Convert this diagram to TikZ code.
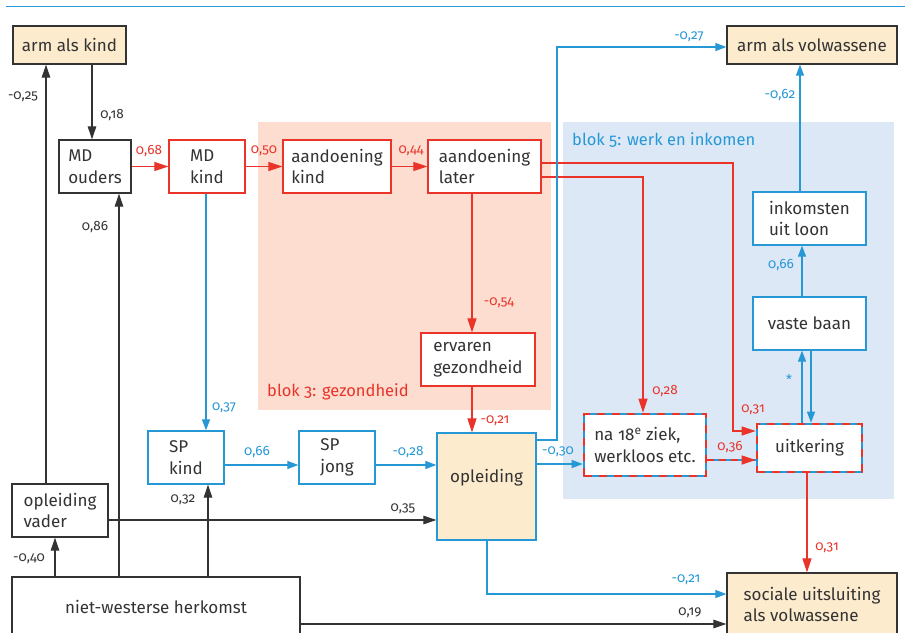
\documentclass[tikz,border=0pt]{standalone}
\usepackage{fontspec}
\setmainfont{Fira Sans}[Numbers=OldStyle]
\usetikzlibrary{arrows.meta,calc}
\definecolor{cred}{RGB}{234,52,42}
\definecolor{cblue}{RGB}{38,152,214}
\definecolor{cdark}{RGB}{51,51,51}
\definecolor{cbeige}{RGB}{253,235,206}
\definecolor{cpink}{RGB}{252,221,208}
\definecolor{clblue}{RGB}{220,232,245}
\begin{document}
\begin{tikzpicture}[x=1pt,y=-1pt,
  box/.style={draw, line width=1.3pt, fill=white, inner sep=0pt, align=left, text=cdark,
    font=\fontsize{17}{21.5}\selectfont},
  bbox/.style={box, draw=cdark},
  rbox/.style={box, draw=cred},
  ubox/.style={box, draw=cblue},
  dualbox/.style={box, draw=cblue, line width=2.6pt,
    postaction={draw=cred, fill=none, line width=2.6pt, dash pattern=on 8pt off 7pt}},
  beige/.style={fill=cbeige},
  lab/.style={font=\fontsize{13.5}{16}\selectfont, inner sep=0pt},
  blk/.style={line width=1.2pt, draw=cdark, -{Triangle[length=13pt,width=8.5pt]}},
  rd/.style={line width=1.2pt, draw=cred, -{Triangle[length=14pt,width=9pt]}},
  bl/.style={line width=1.2pt, draw=cblue, -{Triangle[length=11pt,width=8pt]}},
  blocklab/.style={font=\fontsize{16.5}{20}\selectfont, inner sep=0pt, anchor=base west}
]
\useasboundingbox (0,0) rectangle (905,632);
\fill[white] (0,0) rectangle (905,632);
\draw[cblue, line width=1.3pt] (6,6.5) -- (905,6.5);

% block backgrounds
\fill[cpink] (258,122) rectangle (551,410);
\fill[clblue] (563,122) rectangle (894,499);
\node[blocklab, text=cred] (b3) at (267,396) {blok 3: gezondheid};
\node[blocklab, text=cblue] (b5) at (572,145) {blok 5: werk en inkomen};

% nodes
\node[bbox, beige, minimum width=113pt, minimum height=38pt] (armkind) at (69.5,45) {arm als kind};
\node[bbox, minimum width=72pt, minimum height=53pt] (mdouders) at (95,166.5) {MD\\ouders};
\node[rbox, minimum width=76pt, minimum height=53pt] (mdkind) at (207,166.5) {MD\\kind};
\node[rbox, minimum width=108pt, minimum height=53pt] (akind) at (337,166.5) {aandoening\\kind};
\node[rbox, minimum width=113pt, minimum height=53pt] (alater) at (484.5,166.5) {aandoening\\later};
\node[rbox, minimum width=114pt, minimum height=53pt] (ervaren) at (478,359.5) {ervaren\\gezondheid};
\node[bbox, beige, minimum width=170pt, minimum height=38pt] (armvol) at (812,45) {arm als volwassene};
\node[ubox, minimum width=113pt, minimum height=53pt] (inkomsten) at (809.5,218.5) {inkomsten\\uit loon};
\node[ubox, minimum width=113pt, minimum height=53pt] (vaste) at (809.5,323.5) {vaste baan};
\node[dualbox, minimum width=105pt, minimum height=48pt] (uitkering) at (809.5,448) {uitkering};
\node[dualbox, minimum width=122pt, minimum height=62pt] (na18) at (645,445) {na 18\textsuperscript{e} ziek,\\werkloos etc.};
\node[ubox, beige, minimum width=99pt, minimum height=107pt, text depth=22pt] (opleiding) at (486.5,486.5) {opleiding};
\node[ubox, minimum width=76pt, minimum height=53pt] (spkind) at (186,457.5) {SP\\kind};
\node[ubox, minimum width=76pt, minimum height=53pt] (spjong) at (337,457.5) {SP\\jong};
\node[bbox, minimum width=96pt, minimum height=53pt] (opvader) at (60,510.5) {opleiding\\vader};
\node[bbox, minimum width=288pt, minimum height=59pt] (niet) at (156,606.5) {niet-westerse herkomst};
\node[bbox, beige, minimum width=170pt, minimum height=63pt] (sociale) at (812,604.5) {sociale uitsluiting\\als volwassene};

% black connectors
\draw[blk] (armkind.south -| 92,0) -- (mdouders.north -| 92,0);
\draw[blk] (opvader.north -| 46,0) -- (armkind.south -| 46,0);
\draw[blk] (niet.north -| 55,0) -- (opvader.south -| 55,0);
\draw[blk] (niet.north -| 119,0) -- (mdouders.south -| 119,0);
\draw[blk] (niet.north -| 208,0) -- (spkind.south -| 208,0);
\draw[blk] (niet.east |- 0,624) -- (sociale.west |- 0,624);
\draw[blk] (opvader.east |- 0,520) -- (opleiding.west |- 0,520);

% red connectors
\draw[rd] (mdouders.east) -- (mdkind.west);
\draw[rd] (mdkind.east) -- (akind.west);
\draw[rd] (akind.east) -- (alater.west);
\draw[rd] (alater.south -| 472,0) -- (ervaren.north -| 472,0);
\draw[rd] (ervaren.south -| 472,0) -- (opleiding.north -| 472,0);
\draw[rd] (alater.east |- 0,177) -| (na18.north -| 643,0);
\coordinate (c31) at (733,431);
\draw[rd] (alater.east |- 0,163) -| (c31) -- (uitkering.west |- c31);
\draw[rd] (uitkering.south -| 807,0) -- (sociale.north -| 807,0);

% blue connectors
\draw[bl] (mdkind.south -| 206,0) -- (spkind.north -| 206,0);
\draw[bl] (spkind.east |- 0,465) -- (spjong.west |- 0,465);
\draw[bl] (spjong.east |- 0,465) -- (opleiding.west |- 0,465);
\coordinate (c27) at (557,47);
\draw[bl] (opleiding.east |- 0,440) -| (c27) -- (armvol.west |- c27);
\draw[bl] (opleiding.east |- 0,464) -- (na18.west |- 0,464);
\draw[bl] (uitkering.north -| 802,0) -- (vaste.south -| 802,0);
\draw[bl] (vaste.south -| 811,0) -- (uitkering.north -| 811,0);
\draw[bl] (vaste.north -| 802,0) -- (inkomsten.south -| 802,0);
\draw[bl] (inkomsten.north -| 800,0) -- (armvol.south -| 800,0);
\draw[bl] (opleiding.south -| 487,0) |- (sociale.west |- 0,594);

% dual connector
\draw[cblue, line width=1.3pt] (na18.east |- 0,460) -- (uitkering.west |- 0,460);
\draw[rd, line width=1.3pt, dash pattern=on 7pt off 5pt] (na18.east |- 0,460) -- (uitkering.west |- 0,460);

% labels
\node[lab, text=cdark] (l1) at (112,115) {0,18};
\node[lab, text=cdark] (l2) at (23,97) {-0,25};
\node[lab, text=cdark] (l3) at (29,559) {-0,40};
\node[lab, text=cdark] (l4) at (95,227) {0,86};
\node[lab, text=cdark] (l5) at (183,500) {0,32};
\node[lab, text=cdark] (l6) at (690,613) {0,19};
\node[lab, text=cdark] (l7) at (403,509) {0,35};
\node[lab, text=cred] (l8) at (149,151) {0,68};
\node[lab, text=cred] (l9) at (264,151) {0,50};
\node[lab, text=cred] (l10) at (411,151) {0,44};
\node[lab, text=cred] (l11) at (499,303) {-0,54};
\node[lab, text=cred] (l12) at (495,421) {-0,21};
\node[lab, text=cred] (l13) at (665,391) {0,28};
\node[lab, text=cred] (l14) at (753,410) {0,31};
\node[lab, text=cred] (l15) at (730,447) {0,36};
\node[lab, text=cred] (l16) at (827,548) {0,31};
\node[lab, text=cblue] (l17) at (224,408) {0,37};
\node[lab, text=cblue] (l18) at (257,452) {0,66};
\node[lab, text=cblue] (l19) at (408,452) {-0,28};
\node[lab, text=cblue] (l20) at (689,37) {-0,27};
\node[lab, text=cblue] (l21) at (558,452) {-0,30};
\node[lab, text=cblue] (l22) at (781,265) {0,66};
\node[lab, text=cblue] (l23) at (780,95) {-0,62};
\node[lab, text=cblue] (l24) at (686,580) {-0,21};
\node[lab, text=cblue] (l25) at (789,380) {*};
\end{tikzpicture}
\end{document}
